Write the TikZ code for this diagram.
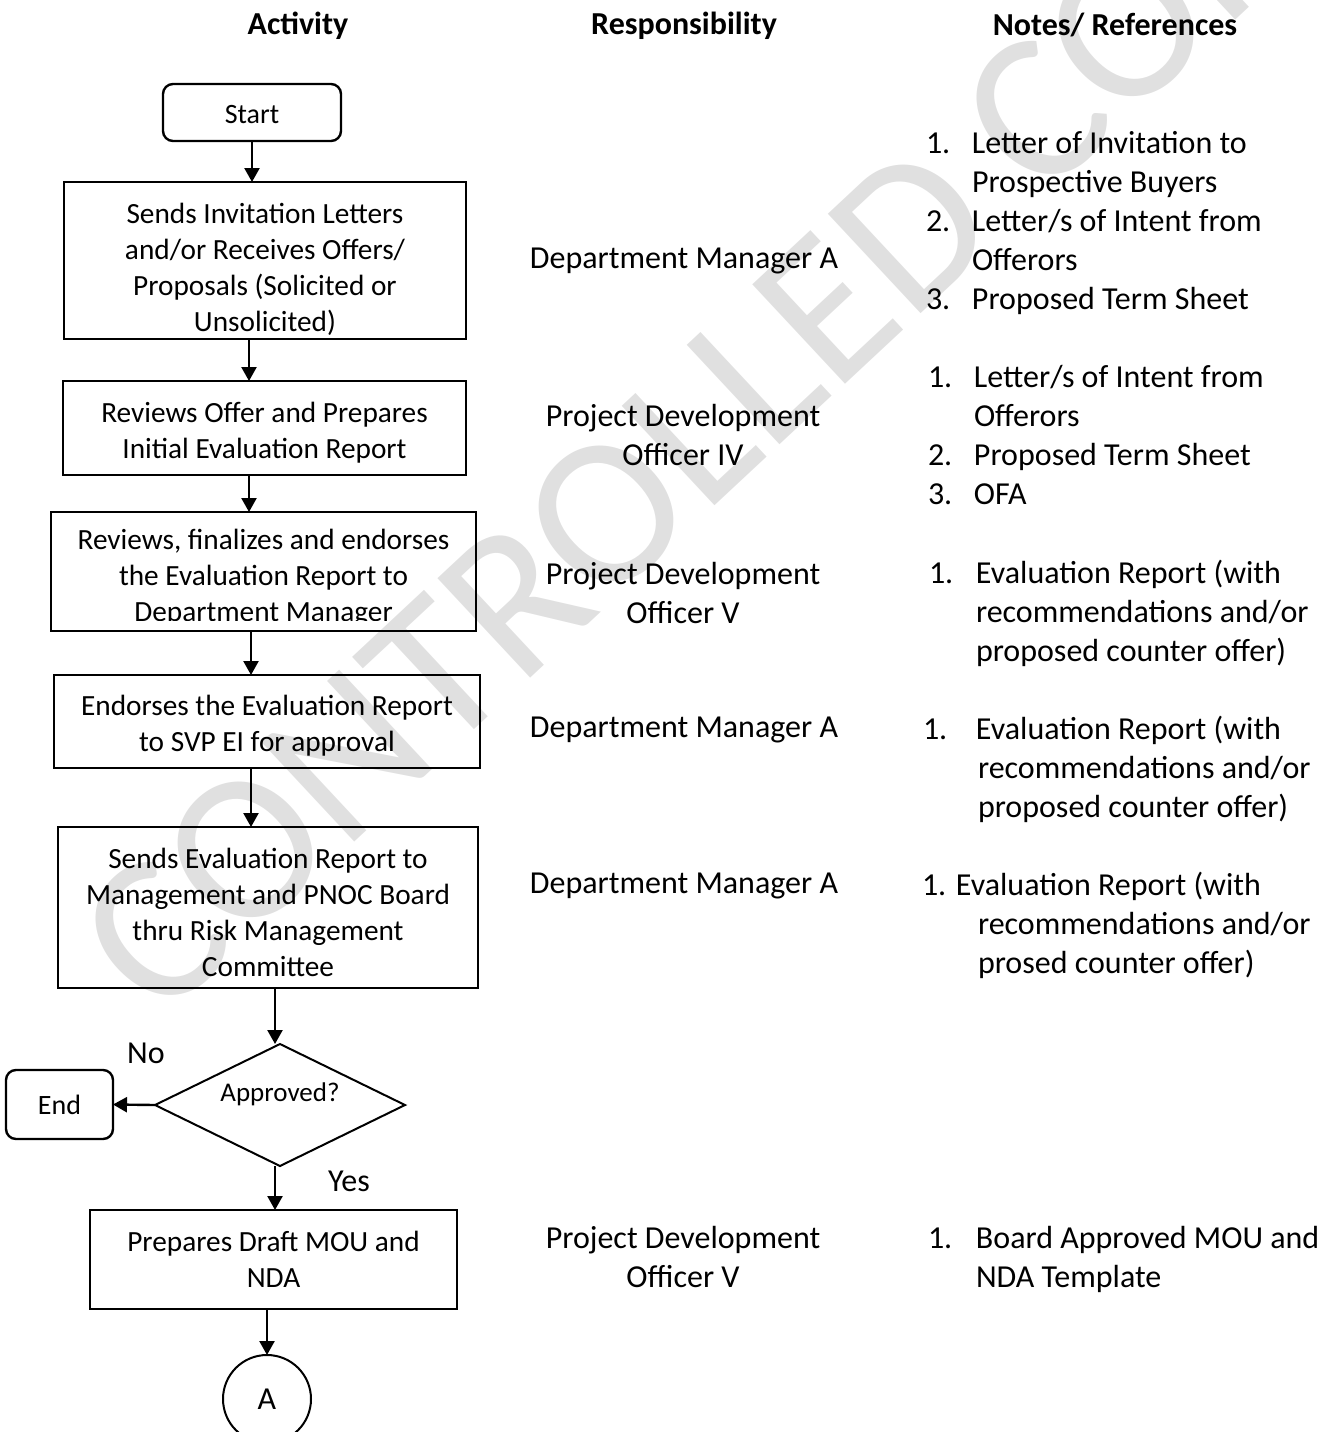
\documentclass[tikz,border=0pt]{standalone}
\usepackage{fontspec}
\setmainfont{Carlito}
\usetikzlibrary{shapes.geometric,arrows.meta}
\definecolor{wmgray}{RGB}{224,224,224}
\newcommand{\topstrut}[1]{\rule{0pt}{#1}}
\begin{document}
\begin{tikzpicture}[x=1pt,y=-1pt,
 every node/.style={inner sep=0pt,outer sep=0pt},
 box/.style={draw,line width=2.6pt,align=center,font=\fontsize{29.3}{36}\selectfont},
 boxtext/.style={align=center,font=\fontsize{29.3}{36}\selectfont},
 term/.style={draw,line width=2.4pt,rounded corners=10pt,font=\fontsize{28}{34}\selectfont},
 arr/.style={line width=2.4pt,-{Triangle[length=14pt,width=15pt]}},
 resp/.style={align=center,font=\fontsize{32}{39}\selectfont},
 note/.style={anchor=base west,font=\fontsize{32}{39}\selectfont},
 head/.style={font=\fontsize{32}{39}\selectfont\bfseries},
 lbl/.style={font=\fontsize{32}{39}\selectfont},
 wm/.style={rotate=43,text=wmgray,font=\fontsize{212}{212}\selectfont}]
\useasboundingbox (0,0) rectangle (1326,1432);

% watermark
\node[wm] (water) at (723,405) {CONTROLLED COPY};

% headers
\node[head] (h1) at (298,26) {Activity};
\node[head] (h2) at (684,26) {Responsibility};
\node[head] (h3) at (1115,25) {Notes/ References};

% flow
\node[term,minimum width=178pt,minimum height=57pt] (start) at (252,112.5) {\topstrut{23pt}Start};
\node[box,minimum width=402pt,minimum height=157pt] (b1) at (265,260.5)
 {\topstrut{37.5pt}Sends Invitation Letters\\and/or Receives Offers/\\Proposals (Solicited or\\Unsolicited)};
\node[box,minimum width=403pt,minimum height=94pt] (b2) at (264.5,428)
 {\topstrut{29.5pt}Reviews Offer and Prepares\\Initial Evaluation Report};
\node[box,minimum width=425pt,minimum height=119pt] (b3) at (263.5,571.5) {};
\begin{scope}
\clip (51,500) rectangle (476,620);
\node[boxtext] (b3t) at (263.5,578) {Reviews, finalizes and endorses\\the Evaluation Report to\\Department Manager};
\end{scope}
\node[box,minimum width=426pt,minimum height=93pt] (b4) at (267,721.5)
 {\topstrut{29.5pt}Endorses the Evaluation Report\\to SVP EI for approval};
\node[box,minimum width=420pt,minimum height=161pt] (b5) at (268,907.5)
 {\topstrut{29.5pt}Sends Evaluation Report to\\Management and PNOC Board\\thru Risk Management\\Committee};
\node[draw,diamond,aspect=2.05,line width=2pt,minimum width=250pt,minimum height=122pt,
 font=\fontsize{27}{32}\selectfont] (d) at (280,1105) {\raisebox{26pt}{Approved?}};
\node[term,minimum width=107pt,minimum height=69pt] (end) at (59.5,1104.5) {End};
\node[box,minimum width=367pt,minimum height=99pt] (b6) at (273.5,1259.5)
 {Prepares Draft MOU and\\NDA};
\node[draw,circle,line width=2pt,minimum size=88pt,font=\fontsize{32}{39}\selectfont] (A) at (267,1399) {A};

\node[lbl] (no) at (146,1053) {No};
\node[lbl] (yes) at (349,1181) {Yes};

% connectors
\draw[arr] (start.south) -- (start.south |- b1.north);
\draw[arr] ([xshift=-16pt]b1.south) -- ([xshift=-16pt]b1.south |- b2.north);
\draw[arr] ([xshift=-15.5pt]b2.south) -- ([xshift=-15.5pt]b2.south |- b3.north);
\draw[arr] ([xshift=-12.5pt]b3.south) -- ([xshift=-12.5pt]b3.south |- b4.north);
\draw[arr] ([xshift=-16pt]b4.south) -- ([xshift=-16pt]b4.south |- b5.north);
\draw[arr] ([xshift=7pt]b5.south) -- ([xshift=7pt]b5.south |- d.north);
\draw[arr] (d.west) -- (end.east);
\draw[arr] ([xshift=-5pt]d.south) -- ([xshift=-5pt]d.south |- b6.north);
\draw[arr] (A.north |- b6.south) -- (A.north);

% responsibility
\node[resp] (r1) at (684,261) {Department Manager A};
\node[resp] (r2) at (683,435) {Project Development\\Officer IV};
\node[resp] (r3) at (683,593) {Project Development\\Officer V};
\node[resp] (r4) at (684,730) {Department Manager A};
\node[resp] (r5) at (684,886) {Department Manager A};
\node[resp] (r6) at (683,1257) {Project Development\\Officer V};

% notes
\node[note] (n1) at (926,153) {\begin{tabular}[t]{@{}p{46pt}@{}l@{}}
1. & Letter of Invitation to\\
 & Prospective Buyers\\
2. & Letter/s of Intent from\\
 & Offerors\\
3. & Proposed Term Sheet
\end{tabular}};
\node[note] (n2) at (928,387) {\begin{tabular}[t]{@{}p{46pt}@{}l@{}}
1. & Letter/s of Intent from\\
 & Offerors\\
2. & Proposed Term Sheet\\
3. & OFA
\end{tabular}};
\node[note] (n3) at (929,583) {\begin{tabular}[t]{@{}p{47pt}@{}l@{}}
1. & Evaluation Report (with\\
 & recommendations and/or\\
 & proposed counter offer)
\end{tabular}};
\node[note] (n4) at (923,739) {\begin{tabular}[t]{@{}p{53pt}@{}l@{}}
1. & Evaluation Report (with\\
 & \hspace{2pt}recommendations and/or\\
 & \hspace{2pt}proposed counter offer)
\end{tabular}};
\node[note] (n5) at (922,895) {\begin{tabular}[t]{@{}p{56pt}@{}l@{}}
\multicolumn{2}{@{}l@{}}{1. Evaluation Report (with}\\
 & recommendations and/or\\
 & prosed counter offer)
\end{tabular}};
\node[note] (n6) at (928,1248) {\begin{tabular}[t]{@{}p{48pt}@{}l@{}}
1. & Board Approved MOU and\\
 & NDA Template
\end{tabular}};
\end{tikzpicture}
\end{document}
